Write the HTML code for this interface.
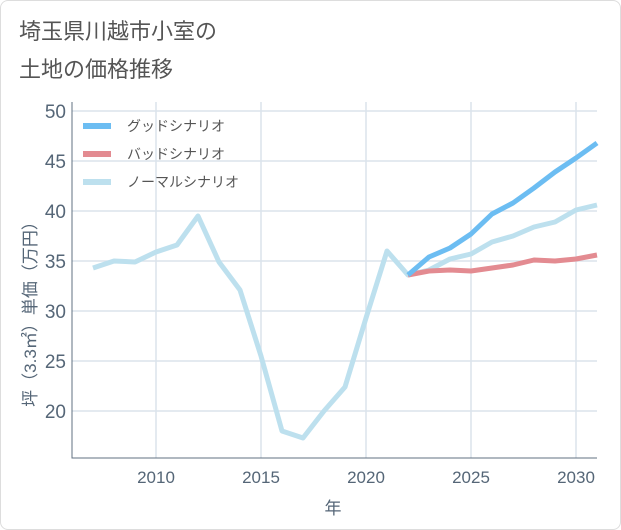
<!DOCTYPE html>
<html><head><meta charset="utf-8"><style>
body{margin:0;background:#fff;}
#c{position:relative;width:619px;height:528px;border:1px solid #ddd;border-radius:8px;background:#fff;overflow:hidden;font-family:"Liberation Sans","Noto Sans CJK JP",sans-serif;}
.t{position:absolute;left:18px;color:#555;font-size:22px;}
</style></head><body>
<div id="c">
<div class="t" style="top:13px">埼玉県川越市小室の</div>
<div class="t" style="top:51px">土地の価格推移</div>
<svg id="s" width="621" height="530" style="position:absolute;left:-1px;top:-1px"></svg>
</div>
<script>
const years=[2007,2008,2009,2010,2011,2012,2013,2014,2015,2016,2017,2018,2019,2020,2021,2022,2023,2024,2025,2026,2027,2028,2029,2030,2031];
const normal=[34.3,35,34.9,35.9,36.6,39.5,34.9,32.1,25.5,18,17.3,20,22.4,29.3,36,33.6,34.1,35.2,35.7,36.9,37.5,38.4,38.9,40.1,40.6];
const fYears=[2022,2023,2024,2025,2026,2027,2028,2029,2030,2031];
const good=[33.6,35.4,36.3,37.7,39.7,40.8,42.3,43.9,45.3,46.8];
const bad=[33.6,34.0,34.1,34.0,34.3,34.6,35.1,35.0,35.2,35.6];
const yTicks=[20,25,30,35,40,45,50];
const xTicks=[2010,2015,2020,2025,2030];
const L=72,R=597,T=102,B=458;
const x=v=>156+(v-2010)*21;
const y=v=>261-(v-35)*10;
const s=document.getElementById('s');
const NS='http://www.w3.org/2000/svg';
function mk(tag,a,p){const e=document.createElementNS(NS,tag);for(const k in a)e.setAttribute(k,a[k]);(p||s).appendChild(e);return e;}
yTicks.forEach(v=>{
 const g=mk('line',{x1:L,x2:R,y1:y(v),y2:y(v),stroke:'#dbe3ec','stroke-width':1.5});
 
 
 const t=mk('text',{x:L-6,y:y(v)+7,'text-anchor':'end','font-size':19,fill:'#556677'});t.textContent=v;
 
 
});
xTicks.forEach(v=>{
 const g=mk('line',{x1:x(v),x2:x(v),y1:T,y2:B,stroke:'#dbe3ec','stroke-width':1.5});
 
 
 const t=mk('text',{x:x(v),y:B+25,'text-anchor':'middle','font-size':17,fill:'#556677'});t.textContent=v;
 
 
});
const ax=mk('path',{d:`M${L} ${T}V${B}H${R}`,stroke:'#607080','stroke-width':1,fill:'none'});


function line(xs,ys,col,name){
 const p=mk('polyline',{points:xs.map((v,i)=>x(v)+','+y(ys[i])).join(' '),fill:'none',stroke:col,'stroke-width':5,'stroke-linejoin':'round'});
 
 
}
line(years,normal,'#bde0ee','normal-scenario-line');
line(fYears,bad,'#e38b91','bad-scenario-line');
line(fYears,good,'#6cbdf2','good-scenario-line');
[['グッドシナリオ','#6cbdf2'],['バッドシナリオ','#e38b91'],['ノーマルシナリオ','#bde0ee']].forEach((d,i)=>{
 const yy=126+i*28;
 const l=mk('line',{x1:83,x2:111,y1:yy,y2:yy,stroke:d[1],'stroke-width':6});
 
 
 const t=mk('text',{x:127,y:yy+5,'font-size':14,fill:'#555'});t.textContent=d[0];
 
 
});
const xt=mk('text',{x:333,y:514,'text-anchor':'middle','font-size':17,fill:'#556677'});xt.textContent='年';


const yt=mk('text',{x:0,y:0,'text-anchor':'middle','font-size':17,fill:'#556677',transform:'translate(36,310) rotate(-90)'});yt.textContent='坪（3.3㎡）単価（万円）';


</script>
</body></html>
